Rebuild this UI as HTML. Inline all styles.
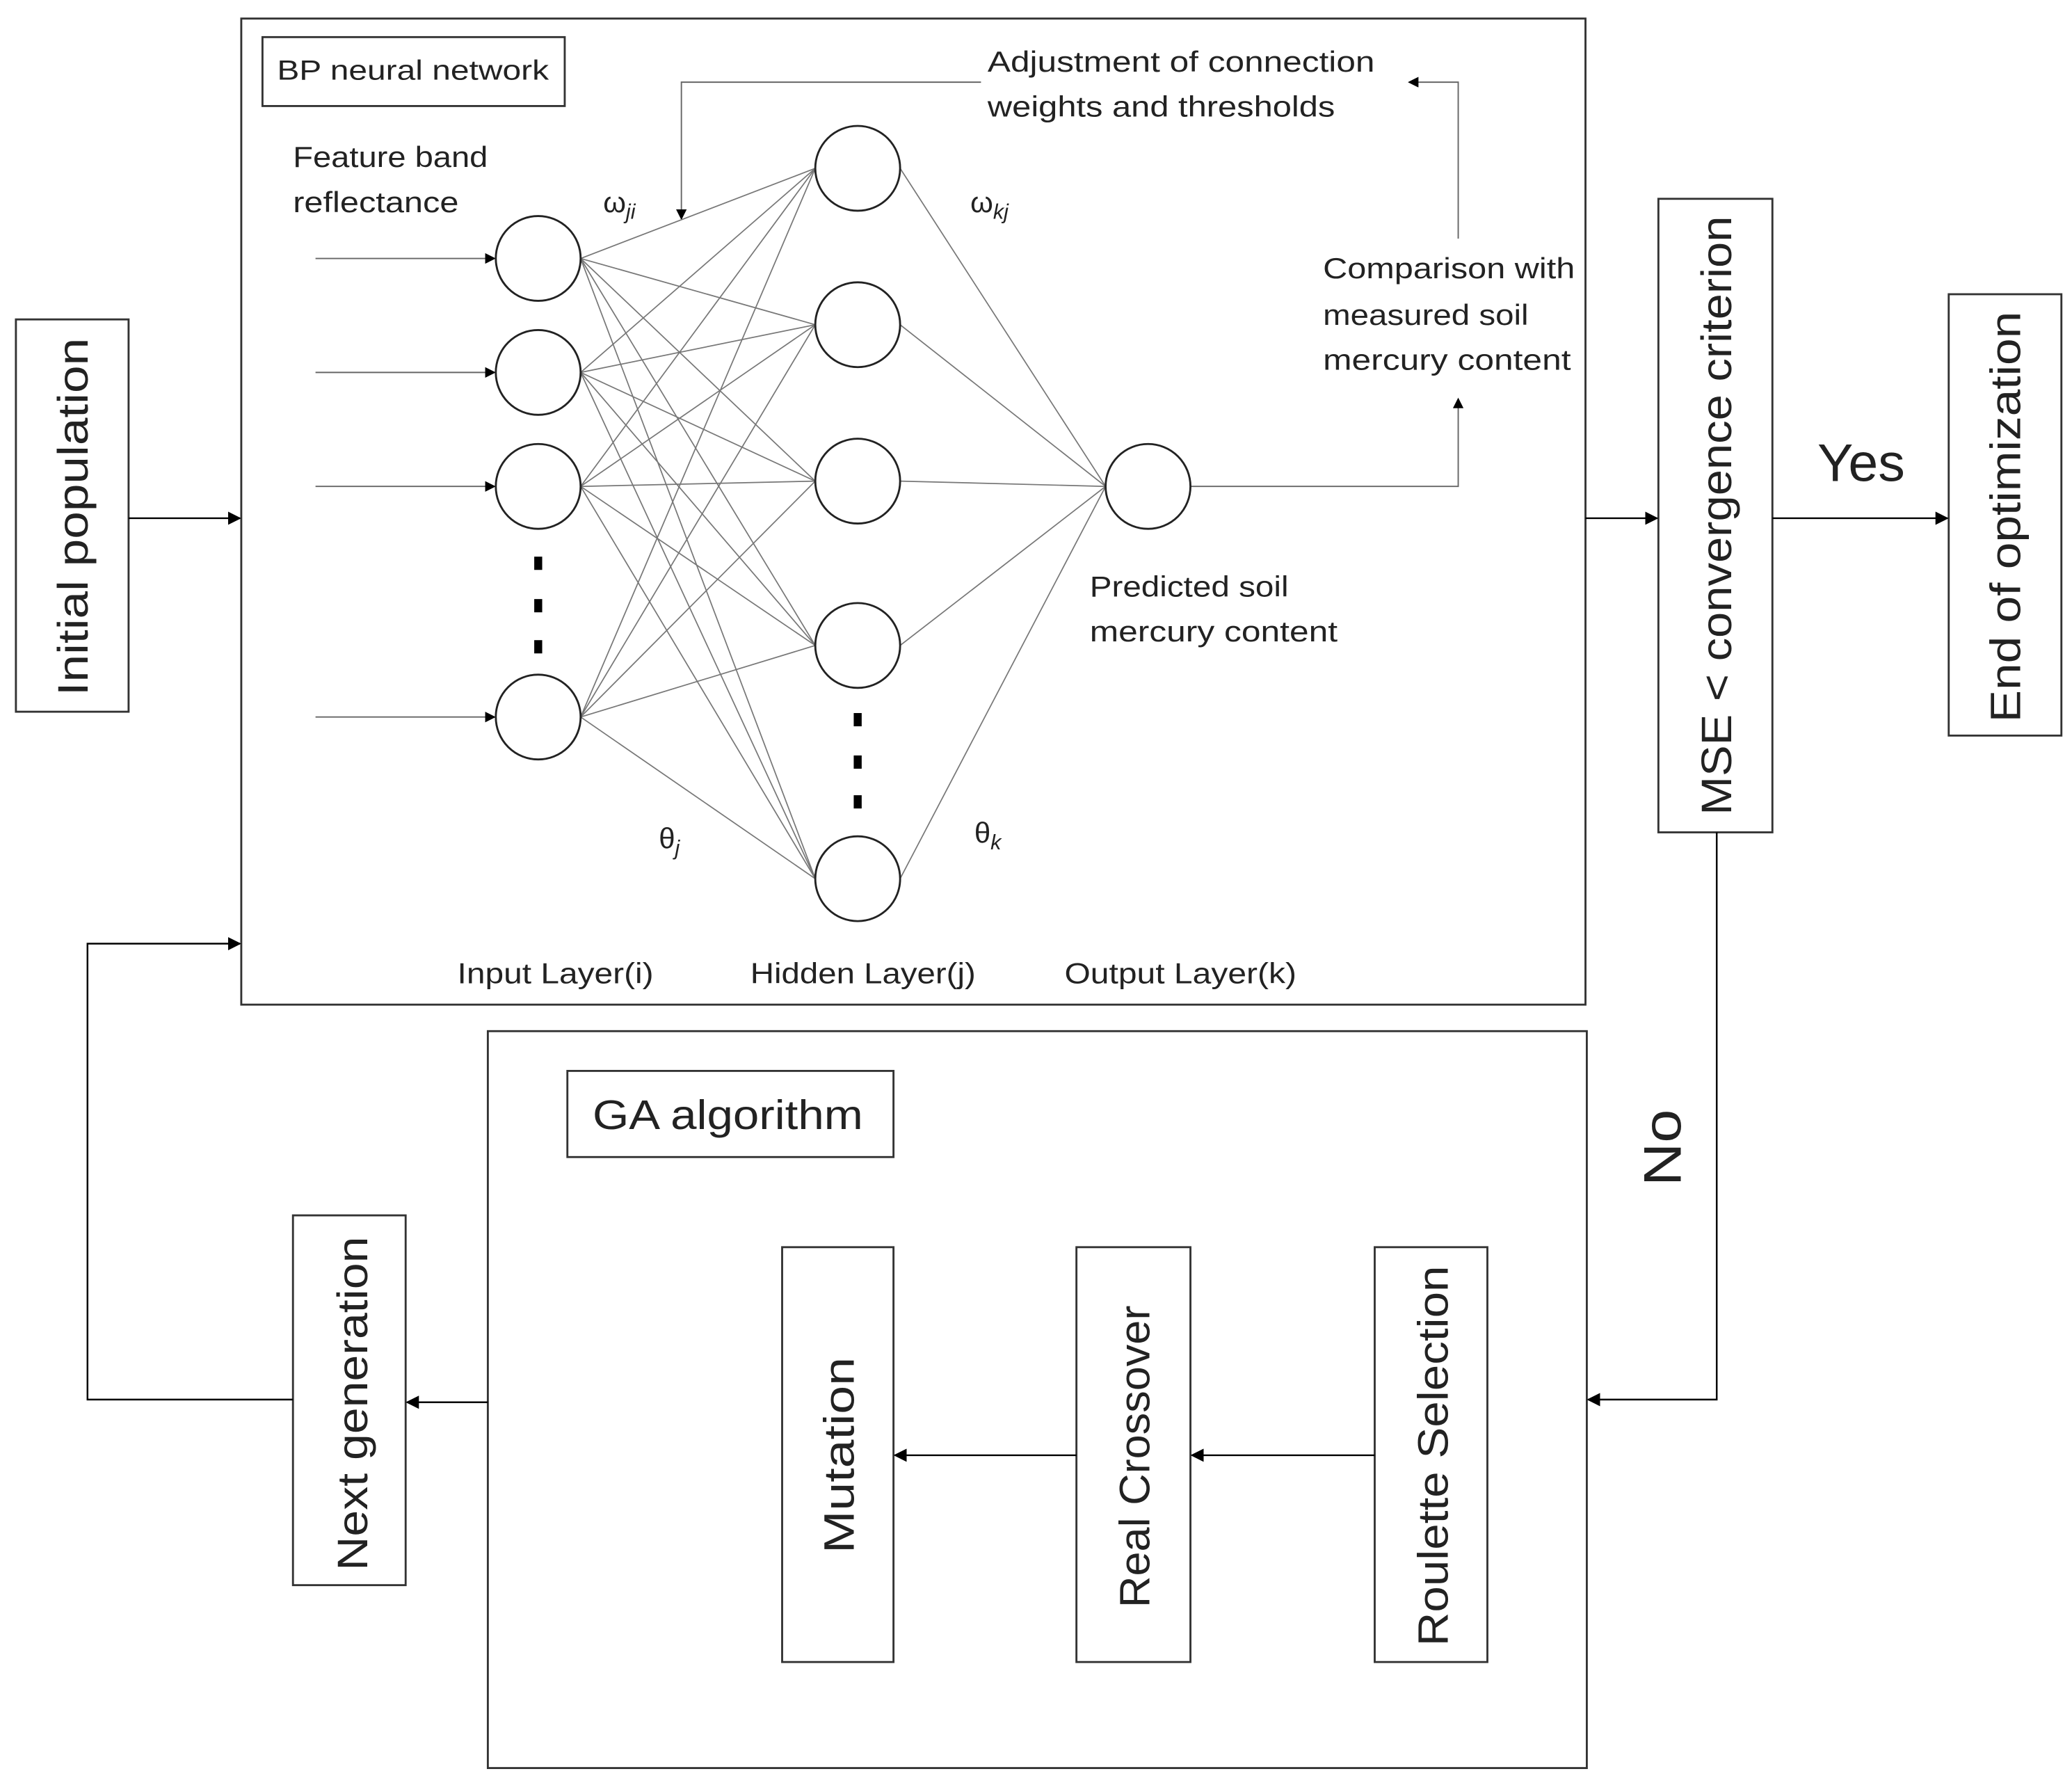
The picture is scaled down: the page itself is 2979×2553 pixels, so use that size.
<!DOCTYPE html>
<html><head><meta charset="utf-8"><style>
html,body{margin:0;padding:0;background:#fff}
svg{display:block}
text{font-family:"Liberation Sans",sans-serif;fill:#222}
</style></head><body>
<svg width="2979" height="2553" viewBox="0 0 1563 1340" preserveAspectRatio="none" xmlns="http://www.w3.org/2000/svg">
<defs>
<marker id="a" markerWidth="10" markerHeight="10" refX="9" refY="5" orient="auto" markerUnits="userSpaceOnUse"><path d="M0,0 L10,5 L0,10 z" fill="#000"/></marker>
<marker id="s" markerWidth="8" markerHeight="8" refX="7" refY="4" orient="auto" markerUnits="userSpaceOnUse"><path d="M0,0 L8,4 L0,8 z" fill="#000"/></marker>
</defs>
<g fill="none" stroke="#333" stroke-width="1.5">
<rect x="182" y="14" width="1014" height="744"/>
<rect x="198" y="28" width="228" height="52"/>
<rect x="12" y="241" width="85" height="296"/>
<rect x="221" y="917" width="85" height="279"/>
<rect x="368" y="778" width="829" height="556"/>
<rect x="428" y="808" width="246" height="65"/>
<rect x="590" y="941" width="84" height="313"/>
<rect x="812" y="941" width="86" height="313"/>
<rect x="1037" y="941" width="85" height="313"/>
<rect x="1251" y="150" width="86" height="478"/>
<rect x="1470" y="222" width="85" height="333"/>
</g>
<g stroke="#000" stroke-width="1.3" fill="none">
<line x1="97" y1="391" x2="181" y2="391" marker-end="url(#a)"/>
<polyline points="221,1056 66,1056 66,712 181,712" marker-end="url(#a)"/>
<line x1="368" y1="1058" x2="307" y2="1058" marker-end="url(#a)"/>
<line x1="1037" y1="1098" x2="899" y2="1098" marker-end="url(#a)"/>
<line x1="812" y1="1098" x2="675" y2="1098" marker-end="url(#a)"/>
<line x1="1196" y1="391" x2="1250" y2="391" marker-end="url(#a)"/>
<line x1="1337" y1="391" x2="1469" y2="391" marker-end="url(#a)"/>
<polyline points="1295,628 1295,1056 1198,1056" marker-end="url(#a)"/>
</g>
<g stroke="#666" stroke-width="1" fill="none">
<line x1="238" y1="195" x2="373" y2="195" marker-end="url(#s)"/>
<line x1="238" y1="281" x2="373" y2="281" marker-end="url(#s)"/>
<line x1="238" y1="367" x2="373" y2="367" marker-end="url(#s)"/>
<line x1="238" y1="541" x2="373" y2="541" marker-end="url(#s)"/>
<polyline points="898,367 1100,367 1100,301" marker-end="url(#s)"/>
<polyline points="1100,180 1100,62 1063,62" marker-end="url(#s)"/>
<polyline points="740,62 514,62 514,165" marker-end="url(#s)"/>
</g>
<g stroke="#777" stroke-width="0.9">
<line x1="438" y1="195" x2="615" y2="127"/><line x1="438" y1="195" x2="615" y2="245"/><line x1="438" y1="195" x2="615" y2="363"/><line x1="438" y1="195" x2="615" y2="487"/><line x1="438" y1="195" x2="615" y2="663"/>
<line x1="438" y1="281" x2="615" y2="127"/><line x1="438" y1="281" x2="615" y2="245"/><line x1="438" y1="281" x2="615" y2="363"/><line x1="438" y1="281" x2="615" y2="487"/><line x1="438" y1="281" x2="615" y2="663"/>
<line x1="438" y1="367" x2="615" y2="127"/><line x1="438" y1="367" x2="615" y2="245"/><line x1="438" y1="367" x2="615" y2="363"/><line x1="438" y1="367" x2="615" y2="487"/><line x1="438" y1="367" x2="615" y2="663"/>
<line x1="438" y1="541" x2="615" y2="127"/><line x1="438" y1="541" x2="615" y2="245"/><line x1="438" y1="541" x2="615" y2="363"/><line x1="438" y1="541" x2="615" y2="487"/><line x1="438" y1="541" x2="615" y2="663"/>
<line x1="679" y1="127" x2="834" y2="367"/><line x1="679" y1="245" x2="834" y2="367"/><line x1="679" y1="363" x2="834" y2="367"/><line x1="679" y1="487" x2="834" y2="367"/><line x1="679" y1="663" x2="834" y2="367"/>
</g>
<g fill="#fff" stroke="#222" stroke-width="1.5">
<circle cx="406" cy="195" r="32"/><circle cx="406" cy="281" r="32"/><circle cx="406" cy="367" r="32"/><circle cx="406" cy="541" r="32"/>
<circle cx="647" cy="127" r="32"/><circle cx="647" cy="245" r="32"/><circle cx="647" cy="363" r="32"/><circle cx="647" cy="487" r="32"/><circle cx="647" cy="663" r="32"/>
<circle cx="866" cy="367" r="32"/>
</g>
<g fill="#000">
<rect x="403" y="420" width="6" height="10"/><rect x="403" y="452" width="6" height="10"/><rect x="403" y="483" width="6" height="10"/>
<rect x="644" y="538" width="6" height="10"/><rect x="644" y="570" width="6" height="10"/><rect x="644" y="600" width="6" height="10"/>
</g>
<g font-size="22">
<text x="209" y="60" font-size="21" textLength="205" lengthAdjust="spacingAndGlyphs">BP neural network</text>
<text x="745" y="54" textLength="292" lengthAdjust="spacingAndGlyphs">Adjustment of connection</text>
<text x="745" y="88" textLength="262" lengthAdjust="spacingAndGlyphs">weights and thresholds</text>
<text x="221" y="126" textLength="147" lengthAdjust="spacingAndGlyphs">Feature band</text>
<text x="221" y="160" textLength="125" lengthAdjust="spacingAndGlyphs">reflectance</text>
<text x="998" y="210" textLength="190" lengthAdjust="spacingAndGlyphs">Comparison with</text>
<text x="998" y="245" textLength="155" lengthAdjust="spacingAndGlyphs">measured soil</text>
<text x="998" y="279" textLength="187" lengthAdjust="spacingAndGlyphs">mercury content</text>
<text x="822" y="450" textLength="150" lengthAdjust="spacingAndGlyphs">Predicted soil</text>
<text x="822" y="484" textLength="187" lengthAdjust="spacingAndGlyphs">mercury content</text>
<text x="345" y="742" textLength="148" lengthAdjust="spacingAndGlyphs">Input Layer(i)</text>
<text x="566" y="742" textLength="170" lengthAdjust="spacingAndGlyphs">Hidden Layer(j)</text>
<text x="803" y="742" textLength="175" lengthAdjust="spacingAndGlyphs">Output Layer(k)</text>
<text x="455" y="160" font-family="Liberation Serif">ω<tspan font-style="italic" font-size="16" dy="5">ji</tspan></text>
<text x="732" y="160" font-family="Liberation Serif">ω<tspan font-style="italic" font-size="16" dy="5">kj</tspan></text>
<text x="497" y="640" font-family="Liberation Serif">θ<tspan font-style="italic" font-size="16" dy="5">j</tspan></text>
<text x="735" y="636" font-family="Liberation Serif">θ<tspan font-style="italic" font-size="16" dy="5">k</tspan></text>
</g>
<text x="447" y="852" font-size="31" textLength="204" lengthAdjust="spacingAndGlyphs">GA algorithm</text>
<text x="1371" y="363" font-size="40" textLength="66" lengthAdjust="spacingAndGlyphs">Yes</text>
<g font-size="32">
<text transform="translate(66,525) rotate(-90)" textLength="270" lengthAdjust="spacingAndGlyphs">Initial population</text>
<text transform="translate(277,1185) rotate(-90)" textLength="252" lengthAdjust="spacingAndGlyphs">Next generation</text>
<text transform="translate(644,1172) rotate(-90)" textLength="148" lengthAdjust="spacingAndGlyphs">Mutation</text>
<text transform="translate(867,1213) rotate(-90)" textLength="228" lengthAdjust="spacingAndGlyphs">Real Crossover</text>
<text transform="translate(1092,1242) rotate(-90)" textLength="287" lengthAdjust="spacingAndGlyphs">Roulette Selection</text>
<text transform="translate(1306,615) rotate(-90)" textLength="452" lengthAdjust="spacingAndGlyphs">MSE &lt; convergence criterion</text>
<text transform="translate(1524,545) rotate(-90)" textLength="310" lengthAdjust="spacingAndGlyphs">End of optimization</text>
<text transform="translate(1268,895) rotate(-90)" font-size="40" textLength="58" lengthAdjust="spacingAndGlyphs">No</text>
</g>
</svg>
</body></html>
